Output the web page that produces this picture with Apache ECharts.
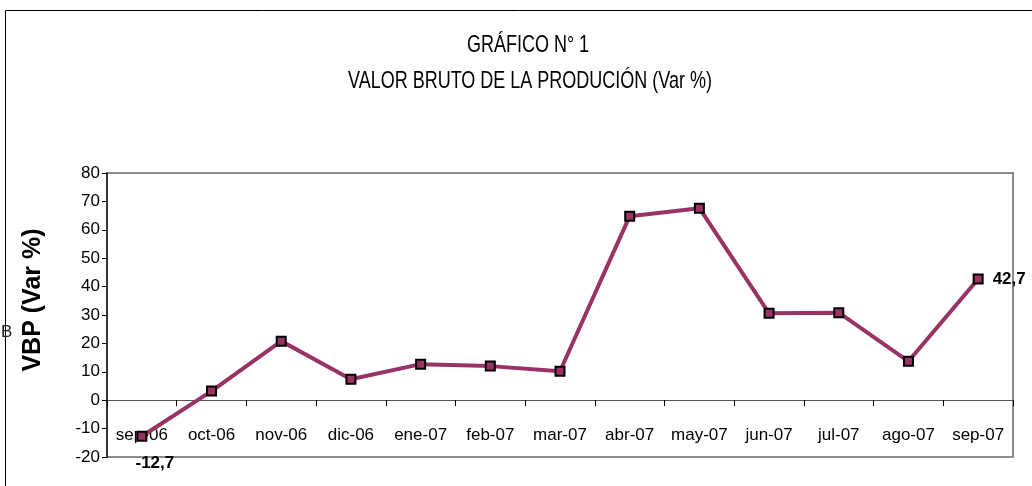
<!DOCTYPE html>
<html>
<head>
<meta charset="utf-8">
<title>VBP Var %</title>
<script src="https://cdn.jsdelivr.net/npm/echarts@6/dist/echarts.min.js"></script>
<style>
  html, body { margin: 0; padding: 0; background: #fff; }
  #chart { width: 1032px; height: 486px; }
</style>
</head>
<body>
<div id="chart"></div>
<script>
// months on the x axis
const categories = ['sep-06', 'oct-06', 'nov-06', 'dic-06', 'ene-07', 'feb-07', 'mar-07',
  'abr-07', 'may-07', 'jun-07', 'jul-07', 'ago-07', 'sep-07']
// VBP variation (%)
const vbpValues = [-12.7, 3.2, 20.8, 7.4, 12.7, 12.0, 10.2, 64.8, 67.6, 30.6, 30.8, 13.7, 42.7]
// indexes that carry a data label, and where
const labelPositions = { 0: 'bottom', 12: 'right' }

const titleLines = ['GRÁFICO N° 1', 'VALOR BRUTO DE LA PRODUCIÓN (Var %)']
const yAxisName = 'VBP (Var %)'

const lineColor = '#993366'
const plainFont = '"Liberation Sans", Arial, sans-serif'

const chart = echarts.init(document.getElementById('chart'))

const seriesData = vbpValues.map((v, i) => {
  const item = { value: v }
  if (labelPositions[i]) {
    const bottom = labelPositions[i] === 'bottom'
    item.label = {
      show: true,
      position: labelPositions[i],
      distance: bottom ? 13 : 9,
      offset: bottom ? [13, 0] : [0, 0],
      fontFamily: plainFont,
      fontWeight: 'bold',
      fontSize: 17,
      color: '#000',
      formatter: p => p.value.toFixed(1).replace('.', ',')
    }
  }
  return item
})

// condensed title, squeezed horizontally like the original narrow font
function titleText(text, x, y, scale) {
  return {
    type: 'text',
    x: x,
    y: y,
    scaleX: scale,
    style: {
      text: text,
      fontFamily: plainFont,
      fontSize: 24,
      fill: '#000',
      textAlign: 'center',
      textVerticalAlign: 'middle'
    }
  }
}

chart.setOption({
  animation: false,
  backgroundColor: '#fff',
  graphic: [
    {
      type: 'polyline',
      shape: { points: [[5.5, 490], [5.5, 10.5], [1040, 10.5]] },
      style: { stroke: '#000', lineWidth: 1, fill: null }
    },
    titleText(titleLines[0], 528, 45, 0.75),
    titleText(titleLines[1], 530, 81, 0.75),
    {
      type: 'text',
      x: 33,
      y: 300,
      rotation: Math.PI / 2,
      style: {
        text: yAxisName,
        fontFamily: plainFont,
        fontWeight: 'bold',
        fontSize: 25,
        fill: '#000',
        textAlign: 'center',
        textVerticalAlign: 'middle'
      }
    },
    {
      type: 'text',
      left: 1,
      top: 324,
      style: { text: 'B', fontFamily: plainFont, fontSize: 17, fill: '#222' }
    }
  ],
  grid: {
    left: 107,
    right: 19,
    top: 173,
    bottom: 29,
    containLabel: false,
    outerBoundsMode: 'none',
    show: true,
    borderColor: '#8c8c8c',
    borderWidth: 2
  },
  xAxis: [
    {
      type: 'category',
      data: categories,
      boundaryGap: true,
      axisLine: { onZero: true, lineStyle: { color: '#555', width: 1 } },
      axisTick: { show: true, inside: false, length: 6, lineStyle: { color: '#000' } },
      axisLabel: { show: false },
      splitLine: { show: false }
    },
    {
      type: 'category',
      data: categories,
      boundaryGap: true,
      position: 'bottom',
      axisLine: { show: false, onZero: false },
      axisTick: { show: false },
      axisLabel: {
        interval: 0,
        margin: -30,
        fontFamily: plainFont,
        fontSize: 17,
        color: '#000'
      },
      splitLine: { show: false }
    }
  ],
  yAxis: {
    type: 'value',
    min: -20,
    max: 80,
    interval: 10,
    axisLine: { show: true, lineStyle: { color: '#333', width: 2 } },
    axisTick: { show: true, length: 5, lineStyle: { color: '#000' } },
    axisLabel: { fontFamily: plainFont, fontSize: 17, color: '#000', margin: 7 },
    splitLine: { show: false }
  },
  series: [
    {
      type: 'line',
      xAxisIndex: 0,
      data: seriesData,
      symbol: 'rect',
      symbolSize: 9,
      showAllSymbol: true,
      lineStyle: { color: lineColor, width: 4 },
      itemStyle: { color: lineColor, borderColor: '#000', borderWidth: 2 },
      z: 3
    }
  ]
})
</script>
</body>
</html>
